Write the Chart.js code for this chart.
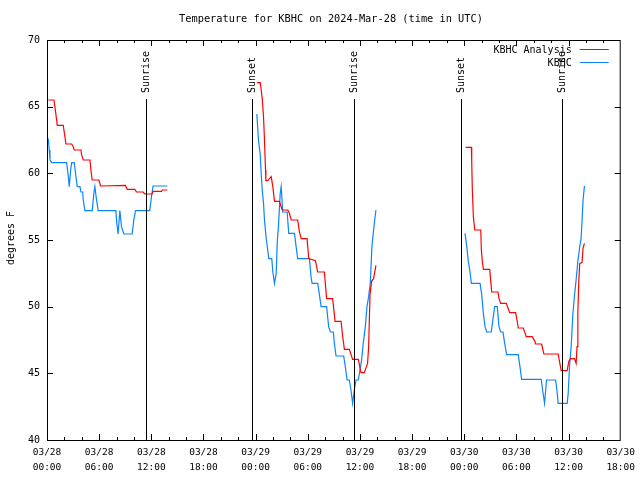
<!DOCTYPE html>
<html lang="en">
  <head>
    <meta charset="UTF-8" />
    <title>KBHC Temperature</title>
    <script src="https://cdn.jsdelivr.net/npm/chart.js@4.4.1/dist/chart.umd.min.js"></script>
    <style>
      body { margin: 0; background: #fff; }
      canvas { display: block; }
    </style>
  </head>
  <body>
    <canvas id="myChart" width="640" height="480"></canvas>

    <script>
      // hours since 03/28 00:00 UTC, null = gap between days
      const analysisHours = [
        0.15, 0.8, 1.0, 1.18, 1.87, 2.18, 2.84, 3.02, 3.13, 3.9, 3.98, 4.17, 4.94, 5.05, 5.2, 5.97,
        6.16, 9.03, 9.22, 10.1, 10.3, 11.05, 11.25, 12.09, 12.2, 13.17, 13.28, 13.85,
        18,
        24.14, 24.53, 24.64, 24.76, 24.91, 25.02, 25.14, 25.18, 25.4, 25.79, 25.98, 26.17, 26.74,
        27.05, 27.7, 27.89, 28.09, 28.84, 29.04, 29.24, 29.92, 30.11, 30.88, 31.14, 31.91, 32.17,
        32.86, 33.14, 33.83, 34.01, 34.21, 34.78, 35.16, 35.81, 36.12, 36.5, 36.88, 37.0, 37.16,
        37.34, 37.57, 37.84,
        42,
        48.17, 48.82, 48.86, 48.93, 49.05, 49.21, 49.9, 49.97, 50.08, 50.2, 50.93, 51.05, 51.16,
        51.88, 52.0, 52.19, 52.84, 53.03, 53.23, 53.91, 54.1, 54.21, 54.79, 55.06, 55.13, 55.82,
        56.13, 56.21, 56.9, 57.16, 58.8, 59.0, 59.15, 59.84, 60.03, 60.23, 60.69, 60.87, 60.98,
        61.07, 61.18, 61.29, 61.55, 61.67, 61.83
      ];
      const analysisTemps = [
        65.5, 65.5, 64.55, 63.6, 63.6, 62.2, 62.2, 62.0, 61.75, 61.75, 61.4, 61.0, 61.0, 60.25, 59.5, 59.5,
        59.05, 59.1, 58.8, 58.8, 58.6, 58.6, 58.45, 58.45, 58.65, 58.65, 58.75, 58.75,
        null,
        66.8, 66.8, 66.25, 65.6, 64.25, 62.5, 60.25, 59.45, 59.45, 59.75, 59.0, 57.9, 57.9,
        57.25, 57.25, 57.0, 56.5, 56.5, 55.6, 55.1, 55.1, 53.6, 53.45, 52.6, 52.6, 50.6,
        50.6, 48.9, 48.9, 47.8, 46.8, 46.8, 46.05, 46.05, 45.05, 45.05, 45.75, 47.0, 50.9,
        51.9, 52.1, 53.1,
        null,
        61.95, 61.95, 60.9, 58.8, 56.75, 55.75, 55.75, 54.25, 53.4, 52.8, 52.8, 51.9, 51.1,
        51.1, 50.6, 50.25, 50.25, 49.9, 49.55, 49.55, 48.9, 48.4, 48.4, 47.9, 47.75, 47.75,
        47.4, 47.2, 47.2, 46.45, 46.45, 45.75, 45.2, 45.2, 45.9, 46.1, 46.1, 45.75, 47.0,
        49.5, 52.0, 53.25, 53.3, 54.4, 54.75
      ];

      const obsHours = [
        0.15, 0.26, 0.34, 0.54, 2.26, 2.45, 2.56, 2.72, 2.84, 3.13, 3.33, 3.48, 3.79, 3.9, 4.1,
        4.17, 4.36, 5.2, 5.39, 5.51, 5.7, 5.89, 7.92, 8.03, 8.18, 8.38, 8.57, 8.84, 9.79, 9.99,
        10.18, 11.82, 12.02, 12.2, 13.85,
        18,
        24.14, 24.33, 24.53, 24.64, 24.76, 24.91, 25.02, 25.22, 25.52, 25.86, 25.98, 26.17, 26.37,
        26.48, 26.63, 26.83, 26.94, 27.12, 27.63, 27.81, 28.47, 28.66, 28.84, 30.19, 30.38, 30.5,
        31.14, 31.34, 31.53, 32.17, 32.4, 32.6, 32.94, 33.06, 33.25, 34.13, 34.32, 34.52, 34.78,
        34.97, 35.16, 35.35, 35.55, 35.81, 36.01, 36.19, 36.38, 36.62, 36.81, 37.0, 37.19, 37.38,
        37.57, 37.84,
        42,
        48.09, 48.29, 48.47, 48.67, 48.82, 49.82, 50.01, 50.2, 50.39, 50.59, 51.11, 51.31, 51.5,
        51.8, 52.0, 52.19, 52.46, 52.65, 52.88, 54.21, 54.41, 54.6, 56.85, 57.05, 57.24, 57.47,
        58.51, 58.69, 58.8, 59.84, 59.95, 60.11, 60.3, 60.49, 60.69, 60.87, 61.07, 61.29, 61.44,
        61.55, 61.67, 61.83
      ];
      const obsTemps = [
        62.6, 61.75, 61.0, 60.8, 60.8, 59.75, 59.0, 60.25, 60.8, 60.8, 59.75, 59.0, 59.0, 58.6, 58.6,
        58.0, 57.2, 57.2, 58.5, 59.0, 58.0, 57.2, 57.2, 56.25, 55.45, 57.2, 56.0, 55.45, 55.45, 56.5,
        57.2, 57.2, 58.25, 59.05, 59.05,
        null,
        64.45, 62.5, 61.4, 60.0, 58.75, 57.75, 56.5, 55.1, 53.6, 53.6, 52.6, 51.75, 52.5,
        54.75, 56.1, 58.5, 59.0, 57.1, 57.1, 55.5, 55.5, 54.5, 53.6, 53.6, 52.2, 51.75,
        51.75, 50.9, 50.0, 50.0, 48.5, 48.1, 48.1, 47.25, 46.3, 46.3, 45.5, 44.5, 44.5,
        43.75, 42.75, 43.75, 44.5, 44.5, 45.25, 46.0, 47.25, 48.5, 50.0, 50.75, 51.75, 54.5,
        55.75, 57.25,
        null,
        55.5, 54.5, 53.4, 52.6, 51.75, 51.75, 50.9, 49.5, 48.5, 48.1, 48.1, 49.1, 50.0,
        50.0, 48.5, 48.1, 48.1, 47.25, 46.4, 46.4, 45.5, 44.55, 44.55, 43.6, 42.75, 44.5,
        44.5, 43.6, 42.75, 42.75, 43.4, 45.5, 47.0, 49.4, 50.9, 52.0, 53.4, 54.5, 55.1,
        56.4, 58.0, 59.05
      ];

      const sunHours = [11.44, 23.57, 35.28, 47.67, 59.27];
      const sunLabels = ['Sunrise', 'Sunset', 'Sunrise', 'Sunset', 'Sunrise'];

      const tickDates = ['03/28', '03/28', '03/28', '03/28', '03/29', '03/29', '03/29', '03/29', '03/30', '03/30', '03/30', '03/30'];
      const tickTimes = ['00:00', '06:00', '12:00', '18:00', '00:00', '06:00', '12:00', '18:00', '00:00', '06:00', '12:00', '18:00'];

      const FONT = "'DejaVu Sans Mono', monospace";

      function toPoints(xs, ys) {
        return xs.map((x, i) => ({ x: x, y: ys[i] }));
      }

      const gnuplotLook = {
        id: 'gnuplotLook',
        afterDraw(chart) {
          const ctx = chart.ctx;
          const area = chart.chartArea;
          const xs = chart.scales.x;
          const ys = chart.scales.y;
          ctx.save();
          ctx.strokeStyle = '#000';
          ctx.lineWidth = 1;

          // frame
          ctx.strokeRect(area.left + 0.5, area.top + 0.5, area.right - area.left - 1, area.bottom - area.top);

          // x ticks, every 2h, taller on 6h
          ctx.beginPath();
          for (let h = 2; h < 66; h += 2) {
            const px = Math.round(xs.getPixelForValue(h)) + 0.5;
            const len = h % 6 === 0 ? 6 : 3;
            ctx.moveTo(px, area.bottom);
            ctx.lineTo(px, area.bottom - len);
            ctx.moveTo(px, area.top);
            ctx.lineTo(px, area.top + len);
          }
          // y ticks
          for (let v = 45; v < 70; v += 5) {
            const py = Math.round(ys.getPixelForValue(v)) + 0.5;
            ctx.moveTo(area.left, py);
            ctx.lineTo(area.left + 6, py);
            ctx.moveTo(area.right, py);
            ctx.lineTo(area.right - 6, py);
          }
          ctx.stroke();

          // sunrise / sunset markers
          ctx.font = '10px ' + FONT;
          ctx.fillStyle = '#000';
          sunHours.forEach((h, i) => {
            const px = Math.round(xs.getPixelForValue(h)) + 0.5;
            ctx.beginPath();
            ctx.moveTo(px, area.top + 59);
            ctx.lineTo(px, area.bottom);
            ctx.stroke();
            ctx.save();
            ctx.translate(px, area.top + 53);
            ctx.rotate(-Math.PI / 2);
            ctx.textAlign = 'left';
            ctx.textBaseline = 'middle';
            ctx.fillText(sunLabels[i], 0, 0);
            ctx.restore();
          });

          // key
          const keys = [
            { label: 'KBHC Analysis', color: '#ff0000' },
            { label: 'KBHC', color: '#0a84ff' }
          ];
          keys.forEach((k, i) => {
            const y = area.top + 9.5 + i * 13;
            ctx.fillStyle = '#000';
            ctx.textAlign = 'right';
            ctx.textBaseline = 'middle';
            ctx.fillText(k.label, area.right - 49, y + 1);
            ctx.strokeStyle = k.color;
            ctx.beginPath();
            ctx.moveTo(area.right - 41, y);
            ctx.lineTo(area.right - 12, y);
            ctx.stroke();
          });

          // title and y label
          ctx.fillStyle = '#000';
          ctx.font = '10.3px ' + FONT;
          ctx.textAlign = 'center';
          ctx.textBaseline = 'middle';
          ctx.fillText('Temperature for KBHC on 2024-Mar-28 (time in UTC)', 331, 19);
          ctx.font = '10px ' + FONT;
          ctx.save();
          ctx.translate(11, 238);
          ctx.rotate(-Math.PI / 2);
          ctx.fillText('degrees F', 0, 0);
          ctx.restore();

          ctx.restore();
        }
      };

      const ctx = document.getElementById('myChart').getContext('2d');
      const myChart = new Chart(ctx, {
        type: 'line',
        data: {
          datasets: [
            {
              label: 'KBHC Analysis',
              data: toPoints(analysisHours, analysisTemps),
              borderColor: '#ff0000',
              borderWidth: 1.2,
              pointRadius: 0,
              fill: false,
              spanGaps: false,
              tension: 0
            },
            {
              label: 'KBHC',
              data: toPoints(obsHours, obsTemps),
              borderColor: '#0a84ff',
              borderWidth: 1.2,
              pointRadius: 0,
              fill: false,
              spanGaps: false,
              tension: 0
            }
          ]
        },
        options: {
          responsive: false,
          animation: false,
          devicePixelRatio: 1,
          layout: { padding: { top: 40, right: 18, left: 0, bottom: 0 } },
          plugins: {
            legend: { display: false },
            title: { display: false },
            tooltip: { enabled: false }
          },
          scales: {
            x: {
              type: 'linear',
              min: 0,
              max: 66,
              afterFit: (scale) => { scale.height = 40; },
              grid: { display: false, drawTicks: false },
              border: { display: false },
              ticks: {
                stepSize: 6,
                autoSkip: false,
                maxRotation: 0,
                padding: 5,
                color: '#000',
                font: { family: FONT, size: 9.5, lineHeight: 1.6 },
                callback: (v) => {
                  const i = Math.round(v / 6);
                  return [tickDates[i], tickTimes[i]];
                }
              }
            },
            y: {
              min: 40,
              max: 70,
              afterFit: (scale) => { scale.width = 47; },
              grid: { display: false, drawTicks: false },
              border: { display: false },
              ticks: {
                stepSize: 5,
                padding: 7,
                color: '#000',
                font: { family: FONT, size: 10 }
              }
            }
          }
        },
        plugins: [gnuplotLook]
      });
    </script>
  </body>
</html>
